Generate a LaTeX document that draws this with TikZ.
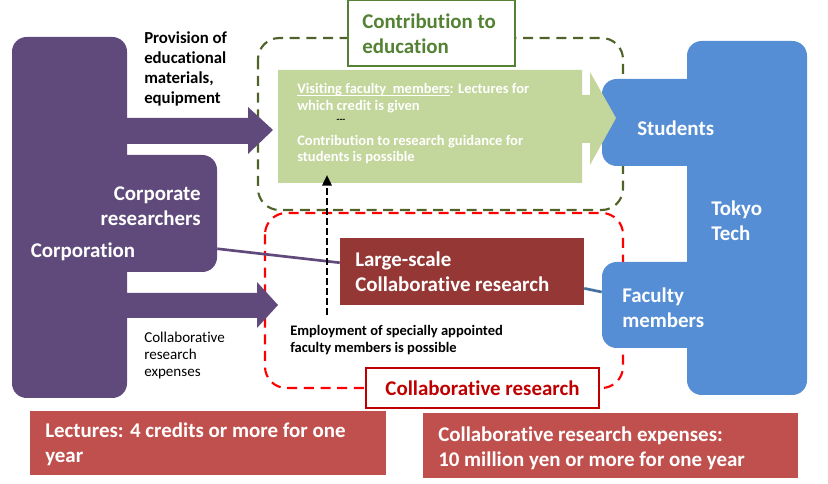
\documentclass[tikz,border=0pt]{standalone}
\usepackage{fontspec}
\setmainfont{Carlito}[Ligatures={NoCommon}]
\usetikzlibrary{fit,calc,arrows.meta}
\definecolor{corppurple}{HTML}{604A7B}
\definecolor{techblue}{HTML}{558ED5}
\definecolor{linkblue}{HTML}{41719C}
\definecolor{edugreen}{HTML}{C3D69B}
\definecolor{eduframe}{HTML}{548235}
\definecolor{edudash}{HTML}{4F6228}
\definecolor{largered}{HTML}{953735}
\definecolor{notered}{HTML}{C0504D}
\definecolor{titlered}{HTML}{C00000}
\newcommand{\ulinetext}[1]{\setbox0\hbox{#1}\rlap{\rule[-1.6pt]{\wd0}{0.6pt}}\box0}
\begin{document}
\begin{tikzpicture}[x=0.75pt, y=-0.75pt,
  block/.style={inner sep=0pt, rounded corners=11pt},
  corpblock/.style={block, fill=corppurple},
  techblock/.style={block, fill=techblue},
  plainbox/.style={inner sep=0pt},
  whitelabel/.style={text=white, font=\bfseries\fontsize{15.7}{18.75}\selectfont, align=left, inner sep=0pt},
  blacklabel/.style={font=\bfseries\fontsize{12.6}{15}\selectfont, align=left, inner sep=0pt},
  smalllabel/.style={font=\bfseries\fontsize{10.9}{12.3}\selectfont, align=left, inner sep=0pt},
  zone/.style={line width=1.6pt, dash pattern=on 7.5pt off 5pt, rounded corners=16pt}
]
  \useasboundingbox (0,0) rectangle (828,484);

  % === dashed zones ===
  \draw[zone, edudash] (258,38) rectangle (623,210);
  \draw[zone, red] (265,213) rectangle (623,388);

  % === Corporation (purple) ===
  \node[corpblock, fit={(12,37)(127,398)}] (corp) {};
  \node[corpblock, fit={(100,155)(217,272)}] (research) {};
  \node[whitelabel, anchor=center] (corplabel) at (83,252) {Corporation};
  \node[whitelabel, align=right, anchor=east] (researchlabel) at (201,206) {Corporate\\researchers};

  % provision arrow
  \fill[corppurple] (127,118) -- (248,118) -- (248,107) -- (273,130) -- (248,154) -- (248,144) -- (127,144) -- cycle;
  % expenses arrow
  \fill[corppurple] (127,293) -- (257,293) -- (257,282) -- (278,305) -- (257,328) -- (257,318) -- (127,318) -- cycle;

  \node[blacklabel, anchor=west] (provision) at (144,68.5) {Provision of\\educational\\materials,\\equipment};
  \node[smalllabel, font=\fontsize{11.3}{13.1}\selectfont, anchor=west] (expenses) at (144,355.5) {Collaborative\\research\\expenses};

  % === Tokyo Tech (blue) ===
  \node[techblock, fit={(687,41)(807,395)}] (tech) {};
  \node[techblock, fit={(602,79)(715,166)}] (students) {};
  \node[techblock, fit={(602,262)(720,348)}] (faculty) {};
  \node[whitelabel, anchor=west] (studentslabel) at (637,128) {Students};
  \node[whitelabel, anchor=west] (techlabel) at (711,221) {Tokyo\\Tech};
  \node[whitelabel, anchor=west] (facultylabel) at (622,308) {Faculty\\members};

  % === Contribution to education ===
  \fill[edugreen] (278,70) -- (582,70) -- (582,95) -- (590,95) -- (590,72) -- (616,118) -- (590,165) -- (590,143) -- (582,143) -- (582,183) -- (278,183) -- cycle;
  \node[smalllabel, text=white, anchor=west] (visiting) at (297,98) {\ulinetext{Visiting faculty\ \ members}: Lectures for\\which credit is given};
  \node[font=\bfseries\fontsize{7}{9}\selectfont, inner sep=0pt] (sep) at (341,121) {-{}-{}-};
  \node[smalllabel, text=white, anchor=west] (guidance) at (297,149.5) {Contribution to research guidance for\\students is possible};
  \node[draw=eduframe, line width=1.2pt, fill=white, fit={(348,0)(515,66)}, plainbox] (edubox) {};
  \node[whitelabel, text=eduframe, anchor=west] (edutitle) at (362,34) {Contribution to\\education};

  % === Collaborative research ===
  \node[fill=largered, fit={(340,238)(584,305)}, plainbox] (largescale) {};
  \node[whitelabel, anchor=west] (largelabel) at (355,271.5) {Large-scale\\Collaborative research};
  \draw[corppurple, line width=2pt] ($(research.north east)!0.8!(research.south east)$) -- ($(largescale.north west)!0.37!(largescale.south west)$);
  \draw[linkblue, line width=2pt] ($(largescale.north east)!0.75!(largescale.south east)$) -- ($(faculty.north west)!0.35!(faculty.south west)$);

  \coordinate (hirefoot) at (327,315);
  \draw[line width=1.8pt, dash pattern=on 5pt off 2.5pt, -{Triangle[length=8pt, width=7pt]}] (hirefoot) -- (327,175);
  \node[smalllabel, font=\bfseries\fontsize{10.9}{12.8}\selectfont, anchor=west] (hiring) at (290,340.5) {Employment of specially appointed\\faculty members is possible};

  \node[draw=titlered, line width=1.2pt, fill=white, fit={(366,368)(599,408)}, plainbox] (collabbox) {};
  \node[whitelabel, text=titlered, anchor=center] (collabtitle) at (collabbox.center) {Collaborative research};

  % === conditions ===
  \node[fill=notered, fit={(30,411)(386,475)}, plainbox] (lecturenote) {};
  \node[whitelabel, anchor=west] (lecturetext) at (45,444.5) {Lectures: 4 credits or more for one\\year};
  \node[fill=notered, fit={(423,413)(798,478)}, plainbox] (expensenote) {};
  \node[whitelabel, anchor=west] (expensetext) at (438,448) {Collaborative research expenses:\\10 million yen or more for one year};
\end{tikzpicture}
\end{document}
